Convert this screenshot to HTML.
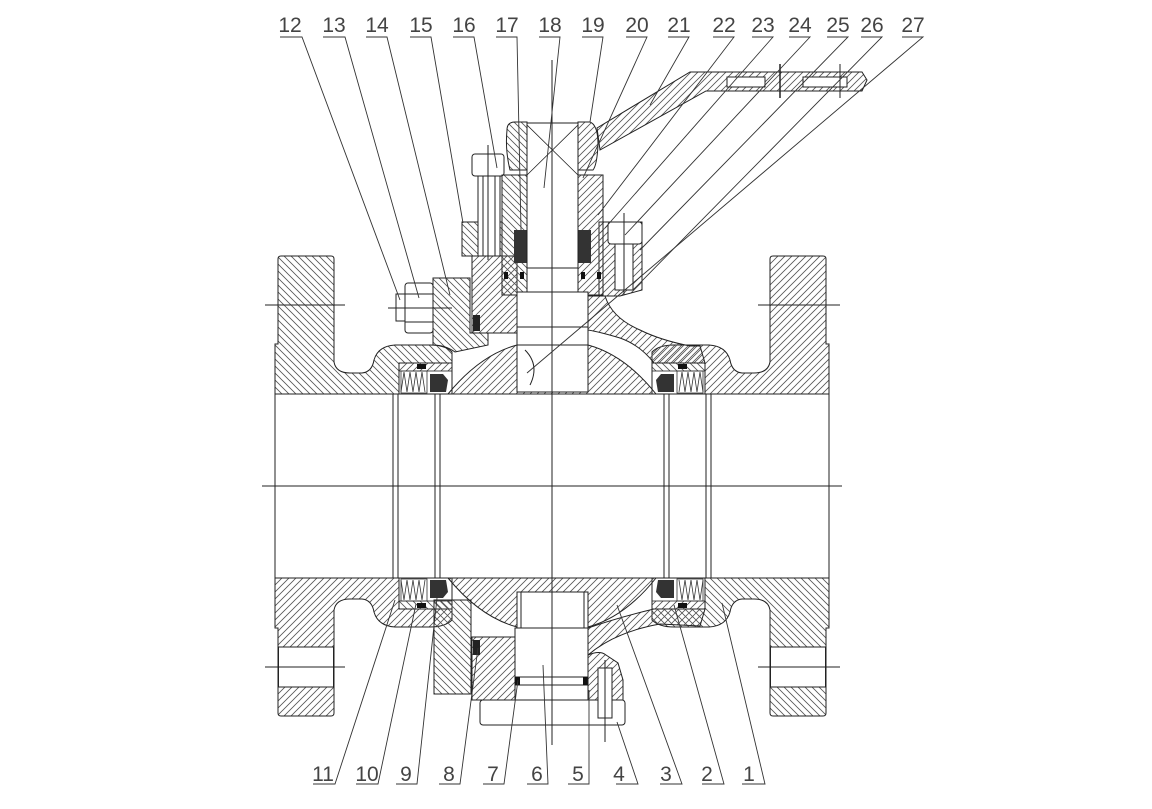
<!DOCTYPE html>
<html><head><meta charset="utf-8"><style>
html,body{margin:0;padding:0;background:#fff;}
svg{display:block;}
text{font-family:"Liberation Sans",sans-serif;font-size:21px;fill:#444;}
</style></head><body>
<svg width="1152" height="809" viewBox="0 0 1152 809" xmlns="http://www.w3.org/2000/svg">
<defs>
<pattern id="hA" patternUnits="userSpaceOnUse" width="7" height="7"><path d="M-1,8 L8,-1 M-1,1 L1,-1 M6,8 L8,6" stroke="#555" stroke-width="0.8"/></pattern>
<pattern id="hB" patternUnits="userSpaceOnUse" width="7" height="7"><path d="M-1,-1 L8,8 M-1,6 L1,8 M6,-1 L8,1" stroke="#555" stroke-width="0.8"/></pattern>
<g id="endL">
<path d="M275,394 L275,344 L278,344 L278,259 Q278,256 281,256 L331,256 Q334,256 334,259 L334,362 Q336,373 350,373 L362,373 Q372,372 374,360 Q378,346 395,345 L430,345 Q445,345 452,352 L452,363 L399,363 L399,394 Z" fill="url(#hB)" stroke="#222" stroke-width="1"/>
<rect x="399" y="363" width="53" height="31" fill="#fff" stroke="#222" stroke-width="1"/>
<rect x="399" y="363" width="53" height="8" fill="url(#hA)" stroke="#222" stroke-width="0.8"/>
<path d="M401,392 L404,372 L407,392 L410,372 L413,392 L416,372 L419,392 L422,372 L425,392" fill="none" stroke="#333" stroke-width="0.8"/>
<rect x="401" y="371" width="26" height="22" fill="none" stroke="#333" stroke-width="0.8"/>
<rect x="417" y="364" width="9" height="5" fill="#111"/>
<path d="M430,374 L443,374 L448,380 L446,392 L430,392 Z" fill="#333"/>
<line x1="265" y1="305" x2="345" y2="305" stroke="#222" stroke-width="1"/>
</g>
</defs>

<use href="#endL"/>
<use href="#endL" transform="translate(1104,0) scale(-1,1)"/>
<use href="#endL" transform="translate(0,972) scale(1,-1)"/>
<use href="#endL" transform="translate(1104,972) scale(-1,-1)"/>
<rect x="278.5" y="647" width="55" height="40" fill="#fff" stroke="#222" stroke-width="1"/>
<rect x="770.5" y="647" width="55" height="40" fill="#fff" stroke="#222" stroke-width="1"/>

<g stroke="#222" stroke-width="1" fill="none">
<line x1="275" y1="394" x2="829" y2="394"/>
<line x1="275" y1="578" x2="829" y2="578"/>
<line x1="275" y1="394" x2="275" y2="578"/>
<line x1="829" y1="394" x2="829" y2="578"/>
<rect x="393" y="394" width="5" height="184"/>
<rect x="435" y="394" width="5" height="184"/>
<rect x="664" y="394" width="5" height="184"/>
<rect x="706" y="394" width="5" height="184"/>
</g>

<path d="M448,394 Q480,355 517,345 L517,392 L588,392 L588,345 Q625,355 656,394 Z" fill="url(#hA)" stroke="#222" stroke-width="1"/>
<path d="M448,578 Q480,617 517,627 L517,592 L588,592 L588,627 Q625,617 656,578 Z" fill="url(#hA)" stroke="#222" stroke-width="1"/>
<rect x="517" y="592" width="71" height="36" fill="#fff" stroke="#222"/>
<line x1="521" y1="592" x2="521" y2="628" stroke="#222"/><line x1="584" y1="592" x2="584" y2="628" stroke="#222"/>

<!-- lower right body -->
<path d="M588,628 L588,655 Q615,632 660,624 L700,626 L705,609 L654,609 Q620,617 588,628 Z" fill="url(#hA)" stroke="#222" stroke-width="1"/>

<!-- body neck left top -->
<path d="M433,278 L470,278 L470,333 L488,333 L488,345 L455,352 Q445,345 433,345 Z" fill="url(#hB)" stroke="#222" stroke-width="1"/>
<rect x="472" y="256" width="45" height="77" fill="url(#hA)" stroke="#222" stroke-width="1"/>
<rect x="473" y="315" width="7" height="16" fill="#222"/>
<!-- nut 12 and bolt -->
<rect x="396" y="294" width="9" height="27" fill="#fff" stroke="#222"/>
<rect x="405" y="283" width="28" height="50" rx="3" fill="#fff" stroke="#222"/>
<line x1="405" y1="294" x2="433" y2="294" stroke="#222"/>
<line x1="405" y1="322" x2="433" y2="322" stroke="#222"/>
<line x1="388" y1="308" x2="452" y2="308" stroke="#222"/>
<!-- body neck right top -->
<path d="M588,296 L605,296 Q612,318 640,330 Q660,340 690,346 L700,346 L705,363 L654,363 Q640,345 620,338 Q600,332 588,330 Z" fill="url(#hA)" stroke="#222" stroke-width="1"/>
<path d="M599,222 L642,222 L642,290 L620,296 L599,296 Z" fill="url(#hA)" stroke="#222" stroke-width="1"/>
<path d="M462,222 L502,222 L502,256 L462,256 Z" fill="url(#hB)" stroke="#222" stroke-width="1"/>
<rect x="478" y="176" width="22" height="80" fill="#fff" stroke="#222"/>
<line x1="483" y1="176" x2="483" y2="256" stroke="#222"/><line x1="495" y1="176" x2="495" y2="256" stroke="#222"/>
<rect x="472" y="154" width="32" height="22" rx="3" fill="#fff" stroke="#222"/>
<line x1="488" y1="145" x2="488" y2="260" stroke="#222"/>
<rect x="608" y="222" width="34" height="22" rx="3" fill="#fff" stroke="#222"/>
<rect x="615" y="244" width="18" height="46" fill="#fff" stroke="#222"/>
<line x1="624" y1="213" x2="624" y2="295" stroke="#222"/>

<rect x="502" y="175" width="25" height="120" fill="url(#hB)" stroke="#222"/>
<rect x="578" y="175" width="25" height="120" fill="url(#hA)" stroke="#222"/>
<rect x="514" y="230" width="13" height="33" fill="#333"/>
<rect x="578" y="230" width="13" height="33" fill="#333"/>
<rect x="504" y="272" width="4" height="7" fill="#111"/><rect x="520" y="272" width="4" height="7" fill="#111"/>
<rect x="581" y="272" width="4" height="7" fill="#111"/><rect x="597" y="272" width="4" height="7" fill="#111"/>
<rect x="527" y="123" width="51" height="170" fill="#fff" stroke="#222"/>
<line x1="527" y1="268" x2="578" y2="268" stroke="#222"/>
<rect x="517" y="292" width="71" height="100" fill="#fff" stroke="#222"/>
<line x1="517" y1="327" x2="588" y2="327" stroke="#222"/><line x1="517" y1="345" x2="588" y2="345" stroke="#222"/>
<path d="M525,350 Q540,365 530,385" fill="none" stroke="#222"/>
<path d="M507,130 Q507,122 515,122 L527,122 L527,170 L510,170 Q505,150 507,130 Z" fill="url(#hB)" stroke="#222"/>
<path d="M578,122 L590,122 Q598,125 598,145 Q597,165 593,170 L578,170 Z" fill="url(#hA)" stroke="#222"/>
<path d="M527,125 L578,175 M578,125 L527,175" stroke="#222" stroke-width="0.8"/>
<path d="M597,128 L690,72 L862,72 L867,80 L862,91 L706,91 L600,150 Z" fill="url(#hA)" stroke="#222" stroke-width="1"/>
<rect x="727" y="77" width="38" height="10" fill="#fff" stroke="#222"/>
<rect x="803" y="77" width="44" height="10" fill="#fff" stroke="#222"/>
<line x1="780" y1="64" x2="780" y2="98" stroke="#222" stroke-width="1.5"/>
<line x1="840" y1="64" x2="840" y2="98" stroke="#222"/>

<path d="M434,600 L471,600 L471,694 L434,694 Z" fill="url(#hB)" stroke="#222"/>
<path d="M472,637 L517,637 L517,700 L472,700 Z" fill="url(#hA)" stroke="#222"/>
<rect x="473" y="640" width="7" height="15" fill="#222"/>
<rect x="515" y="628" width="73" height="72" fill="#fff" stroke="#222"/>
<line x1="515" y1="677" x2="588" y2="677" stroke="#222"/><line x1="515" y1="685" x2="588" y2="685" stroke="#222"/>
<rect x="515" y="677" width="5" height="8" fill="#111"/><rect x="583" y="677" width="5" height="8" fill="#111"/>
<path d="M588,655 Q600,650 606,655 L618,663 L623,680 L623,707 L588,707 Z" fill="url(#hA)" stroke="#222"/>
<rect x="480" y="700" width="145" height="25" rx="3" fill="#fff" stroke="#222"/>
<rect x="598" y="668" width="14" height="50" fill="#fff" stroke="#222"/>
<line x1="605" y1="660" x2="605" y2="742" stroke="#222"/>

<line x1="262" y1="486" x2="842" y2="486" stroke="#222"/>
<line x1="552" y1="60" x2="552" y2="745" stroke="#222"/>
<line x1="758" y1="305" x2="840" y2="305" stroke="#222"/>
<line x1="265" y1="667" x2="345" y2="667" stroke="#222"/>
<line x1="758" y1="667" x2="840" y2="667" stroke="#222"/>

<g stroke="#333" stroke-width="0.9" fill="none">
<path d="M280,37 L302,37 L400,300"/>
<path d="M323,37 L345,37 L419,298"/>
<path d="M366,37 L387,37 L450,295"/>
<path d="M410,37 L431,37 L463,223"/>
<path d="M453,37 L474,37 L497,168"/>
<path d="M496,37 L517,37 L521,230"/>
<path d="M539,37 L560,37 L544,188"/>
<path d="M582,37 L603,37 L590,122"/>
<path d="M626,37 L647,37 L583,178"/>
<path d="M668,37 L689,37 L650,105"/>
<path d="M713,37 L734,37 L598,215"/>
<path d="M752,37 L773,37 L605,228"/>
<path d="M789,37 L810,37 L625,235"/>
<path d="M827,37 L848,37 L640,250"/>
<path d="M861,37 L882,37 L633,290"/>
<path d="M902,37 L923,37 L527,373"/>
</g>
<g text-anchor="middle">
<text x="290" y="32">12</text><text x="334" y="32">13</text><text x="377" y="32">14</text><text x="421" y="32">15</text>
<text x="464" y="32">16</text><text x="507" y="32">17</text><text x="550" y="32">18</text><text x="593" y="32">19</text>
<text x="637" y="32">20</text><text x="679" y="32">21</text><text x="724" y="32">22</text><text x="763" y="32">23</text>
<text x="800" y="32">24</text><text x="838" y="32">25</text><text x="872" y="32">26</text><text x="913" y="32">27</text>
</g>

<g stroke="#333" stroke-width="0.9" fill="none">
<path d="M313,784 L335,784 L395,600"/>
<path d="M356,784 L378,784 L416,604"/>
<path d="M396,784 L417,784 L437,598"/>
<path d="M439,784 L460,784 L478,648"/>
<path d="M483,784 L504,784 L518,680"/>
<path d="M527,784 L548,784 L543,665"/>
<path d="M568,784 L589,784 L589,690"/>
<path d="M616,784 L638,784 L617,722"/>
<path d="M660,784 L682,784 L617,605"/>
<path d="M702,784 L724,784 L674,605"/>
<path d="M742,784 L765,784 L722,603"/>
</g>
<g text-anchor="middle">
<text x="323" y="781">11</text><text x="367" y="781">10</text><text x="406" y="781">9</text><text x="449" y="781">8</text>
<text x="493" y="781">7</text><text x="537" y="781">6</text><text x="578" y="781">5</text><text x="619" y="781">4</text>
<text x="666" y="781">3</text><text x="707" y="781">2</text><text x="749" y="781">1</text>
</g>
</svg>
</body></html>
